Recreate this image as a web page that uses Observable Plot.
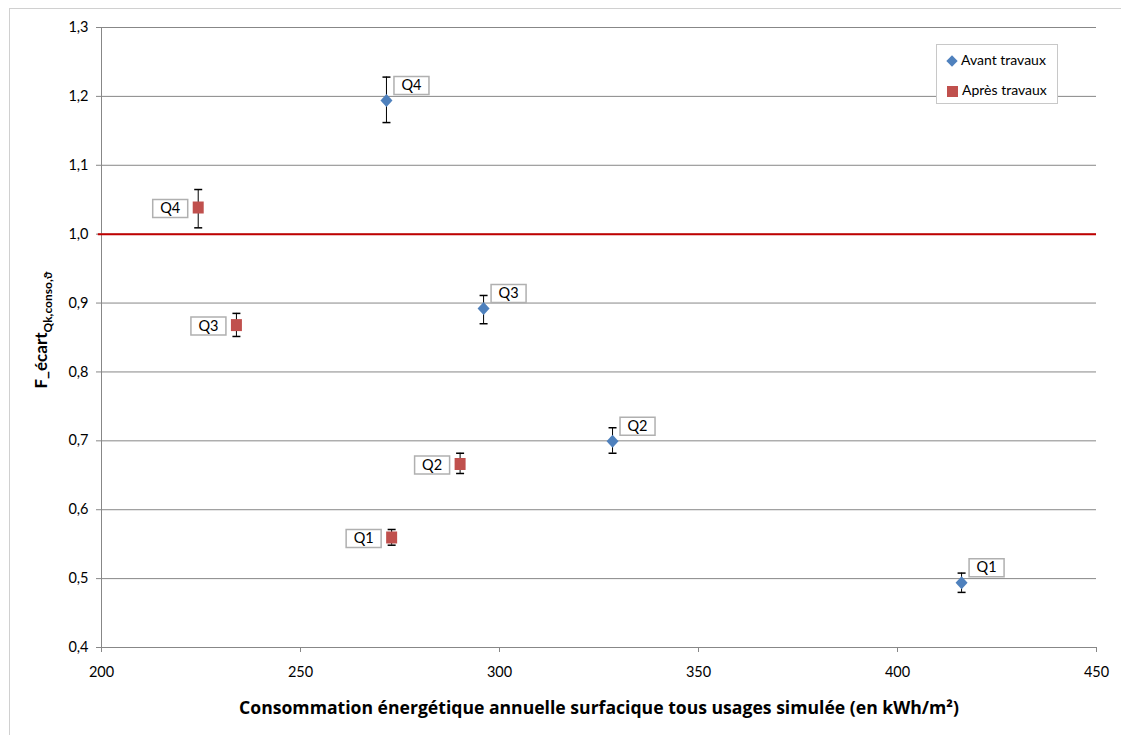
<!DOCTYPE html>
<html>
<head>
<meta charset="utf-8">
<script src="https://cdn.jsdelivr.net/npm/d3@7"></script>
<script src="https://cdn.jsdelivr.net/npm/@observablehq/plot@0.6"></script>
<style>
  html, body { margin: 0; padding: 0; background: white; }
  #wrap { position: relative; width: 1121px; height: 735px; overflow: hidden; font-family: Lato, "Open Sans", sans-serif; }
  #border { position: absolute; left: 9px; top: 8px; width: 1200px; height: 800px; border: 1px solid #d0d0d0; box-sizing: border-box; }
  #chart { position: absolute; left: 0; top: 0; }
  #legend { position: absolute; left: 936px; top: 44px; width: 122px; height: 60px; box-sizing: border-box;
            border: 1px solid #c8c8c8; background: white; font-size: 14px; color: #000; }
  .item { position: absolute; left: 10px; white-space: nowrap; line-height: 16px; }
  .sym { display: inline-block; vertical-align: middle; margin-right: 4px; }
  .diamond { width: 8px; height: 8px; background: #4f81bd; transform: rotate(45deg); margin-left: 1px; margin-right: 5px; }
  .square { width: 11px; height: 11px; background: #c0504d; }
</style>
</head>
<body>
<div id="wrap">
  <div id="border"></div>
  <div id="chart"></div>
  <div id="legend">
    <div class="item" style="top:7px"><span class="sym diamond"></span>Avant travaux</div>
    <div class="item" style="top:37px"><span class="sym square"></span>Après travaux</div>
  </div>
</div>
<script>
// ---- data ----
const quarters = ["Q1", "Q2", "Q3", "Q4"];
const avantX  = [416.1, 328.4, 296.0, 271.6];
const avantY  = [0.494, 0.6995, 0.892, 1.194];
const avantLo = [0.480, 0.682, 0.870, 1.162];
const avantHi = [0.508, 0.719, 0.911, 1.228];
const apresX  = [272.9, 290.1, 233.9, 224.3];
const apresY  = [0.5597, 0.6664, 0.868, 1.0387];
const apresLo = [0.5485, 0.6526, 0.8515, 1.0092];
const apresHi = [0.5713, 0.682, 0.885, 1.0648];
const xTicks = [200, 250, 300, 350, 400, 450];
const yTicks = [0.4, 0.5, 0.6, 0.7, 0.8, 0.9, 1.0, 1.1, 1.2, 1.3];
const refLevel = [1.0];
const xTitle = "Consommation énergétique annuelle surfacique tous usages simulée (en kWh/m²)";
const yTitleMain = "F_écart";
const yTitleSub = "Qk,conso,ϑ";

const avant = quarters.map((q, i) => ({q, x: avantX[i], y: avantY[i], lo: avantLo[i], hi: avantHi[i]}));
const apres = quarters.map((q, i) => ({q, x: apresX[i], y: apresY[i], lo: apresLo[i], hi: apresHi[i]}));

const capSym = {draw(ctx) { ctx.moveTo(-4, 0); ctx.lineTo(4, 0); }};
const squareSym = {draw(ctx) { ctx.rect(-5.5, -6, 11, 12); }};
const diamondSym = {draw(ctx) { ctx.moveTo(0, -6.5); ctx.lineTo(6, 0); ctx.lineTo(0, 6.5); ctx.lineTo(-6, 0); ctx.closePath(); }};
const boxSym = {draw(ctx) { ctx.rect(-17.5, -9, 35, 18); }};

const grid = "#878787";
const fmt = d => d.toFixed(1).replace(".", ",");

const aDx = 25, aDy = -15, pDx = -28, pDy = 1;

const chart = Plot.plot({
  width: 1121, height: 735,
  marginLeft: 101, marginRight: 25, marginTop: 27, marginBottom: 88,
  x: {domain: [200, 450]},
  y: {domain: [0.4, 1.3]},
  style: {fontFamily: "Lato, 'Open Sans', sans-serif", fontSize: "14.5px", background: "transparent", color: "#000", overflow: "visible"},
  marks: [
    Plot.ruleY(yTicks, {stroke: grid, strokeWidth: 1}),
    Plot.ruleX([200], {stroke: grid}),
    Plot.axisY({ticks: yTicks, tickFormat: fmt, tickSize: 5, tickPadding: 8, stroke: grid, fill: "#000", label: null}),
    Plot.axisX({ticks: xTicks, tickFormat: d => String(d), tickSize: 5, tickPadding: 14, stroke: grid, fill: "#000", label: null}),
    Plot.ruleY(refLevel, {stroke: "#c00000", strokeWidth: 2, x1: 199.2, x2: 450}),
    // error bars
    Plot.ruleX(avant, {x: "x", y1: "lo", y2: "hi", stroke: "#000", strokeWidth: 1}),
    Plot.ruleX(apres, {x: "x", y1: "lo", y2: "hi", stroke: "#000", strokeWidth: 1}),
    Plot.dot(avant, {x: "x", y: "lo", symbol: capSym, stroke: "#000", fill: "none", r: 4}),
    Plot.dot(avant, {x: "x", y: "hi", symbol: capSym, stroke: "#000", fill: "none", r: 4}),
    Plot.dot(apres, {x: "x", y: "lo", symbol: capSym, stroke: "#000", fill: "none", r: 4}),
    Plot.dot(apres, {x: "x", y: "hi", symbol: capSym, stroke: "#000", fill: "none", r: 4}),
    // markers
    Plot.dot(avant, {x: "x", y: "y", symbol: diamondSym, fill: "#4f81bd", stroke: "none", r: 6}),
    Plot.dot(apres, {x: "x", y: "y", symbol: squareSym, fill: "#c0504d", stroke: "none", r: 6}),
    // labels
    Plot.dot(avant, {x: "x", y: "y", symbol: boxSym, dx: aDx, dy: aDy, fill: "white", stroke: "#b0b0b0", r: 10}),
    Plot.text(avant, {x: "x", y: "y", text: "q", dx: aDx, dy: aDy, fill: "#000", fontSize: 14.5}),
    Plot.dot(apres, {x: "x", y: "y", symbol: boxSym, dx: pDx, dy: pDy, fill: "white", stroke: "#b0b0b0", r: 10}),
    Plot.text(apres, {x: "x", y: "y", text: "q", dx: pDx, dy: pDy, fill: "#000", fontSize: 14.5}),
    // x title
    Plot.text([xTitle], {frameAnchor: "bottom", dy: 66, fontWeight: "bold", fontSize: 17.6, fill: "#000", fontFamily: "'Open Sans', Lato, sans-serif"})
  ]
});
document.getElementById("chart").appendChild(chart);

// y title with subscript
const svg = d3.select(chart);
const t = svg.append("text")
  .attr("transform", "translate(47,330) rotate(-90)")
  .attr("text-anchor", "middle")
  .attr("font-weight", "bold")
  .attr("font-size", 17)
  .attr("fill", "#000")
  .attr("font-family", "Lato, 'Open Sans', sans-serif");
t.append("tspan").text(yTitleMain);
t.append("tspan").attr("font-size", 12).attr("dy", 5).text(yTitleSub);
</script>
</body>
</html>
